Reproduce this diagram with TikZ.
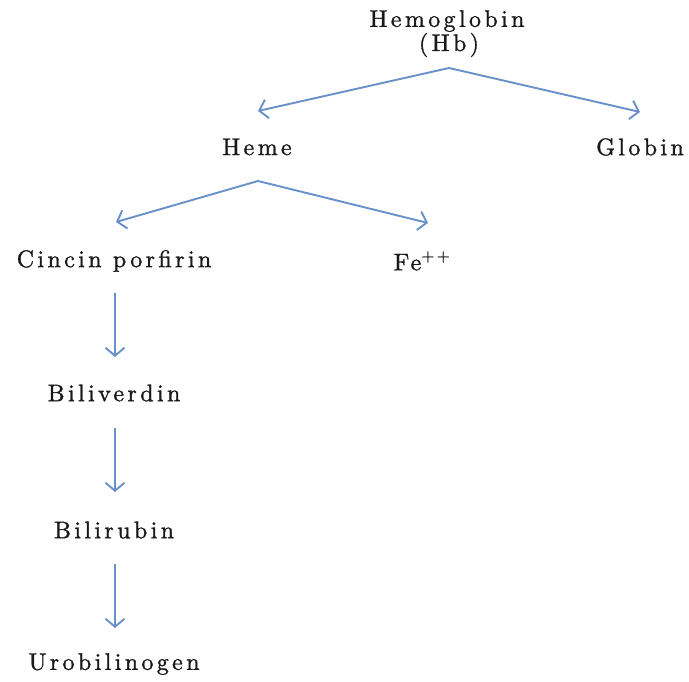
\documentclass[tikz,border=0pt]{standalone}
\usepackage{fontspec}
\setmainfont{lmroman10-regular}[Extension=.otf,LetterSpace=14,FakeBold=1.2]
\usetikzlibrary{arrows.meta}
\definecolor{arrowblue}{RGB}{104,145,202}
\definecolor{txt}{RGB}{25,25,25}
\begin{document}
\begin{tikzpicture}[x=1pt,y=-1pt,
  lbl/.style={text=txt,font=\fontsize{24}{26}\selectfont,inner sep=0pt,anchor=center},
  conn/.style={draw=arrowblue,line width=1.9pt,-{Straight Barb[length=8pt,width=19pt,line width=1.9pt]}}]
\useasboundingbox (0,0) rectangle (689,682);
\node[lbl] (hb) at (447,21) {Hemoglobin};
\node[lbl] (hbb) at (449,45) {(Hb)};
\node[lbl] (heme) at (257,147) {Heme};
\node[lbl] (globin) at (640,147) {Globin};
\node[lbl] (cp) at (114,261) {Cincin porfirin};
\node[lbl] (fe) at (422,261) {Fe\textsuperscript{++}};
\node[lbl] (bv) at (114,393) {Biliverdin};
\node[lbl] (br) at (114,530) {Bilirubin};
\node[lbl] (ub) at (114,664) {Urobilinogen};
\coordinate (hbapex) at (449,68);
\coordinate (hemein) at (258,111);
\coordinate (globinin) at (640,112);
\coordinate (hemeapex) at (258,181);
\coordinate (cpin) at (116,222);
\coordinate (fein) at (428,223);
\draw[conn] (hbapex) -- (hemein);
\draw[conn] (hbapex) -- (globinin);
\draw[conn] (hemeapex) -- (cpin);
\draw[conn] (hemeapex) -- (fein);
\draw[conn] ([xshift=1,yshift=-32]cp.center) -- ([xshift=1,yshift=36]bv.center);
\draw[conn] ([xshift=1,yshift=-35]bv.center) -- ([xshift=1,yshift=38]br.center);
\draw[conn] ([xshift=1,yshift=-34]br.center) -- ([xshift=1,yshift=36]ub.center);
\end{tikzpicture}
\end{document}
